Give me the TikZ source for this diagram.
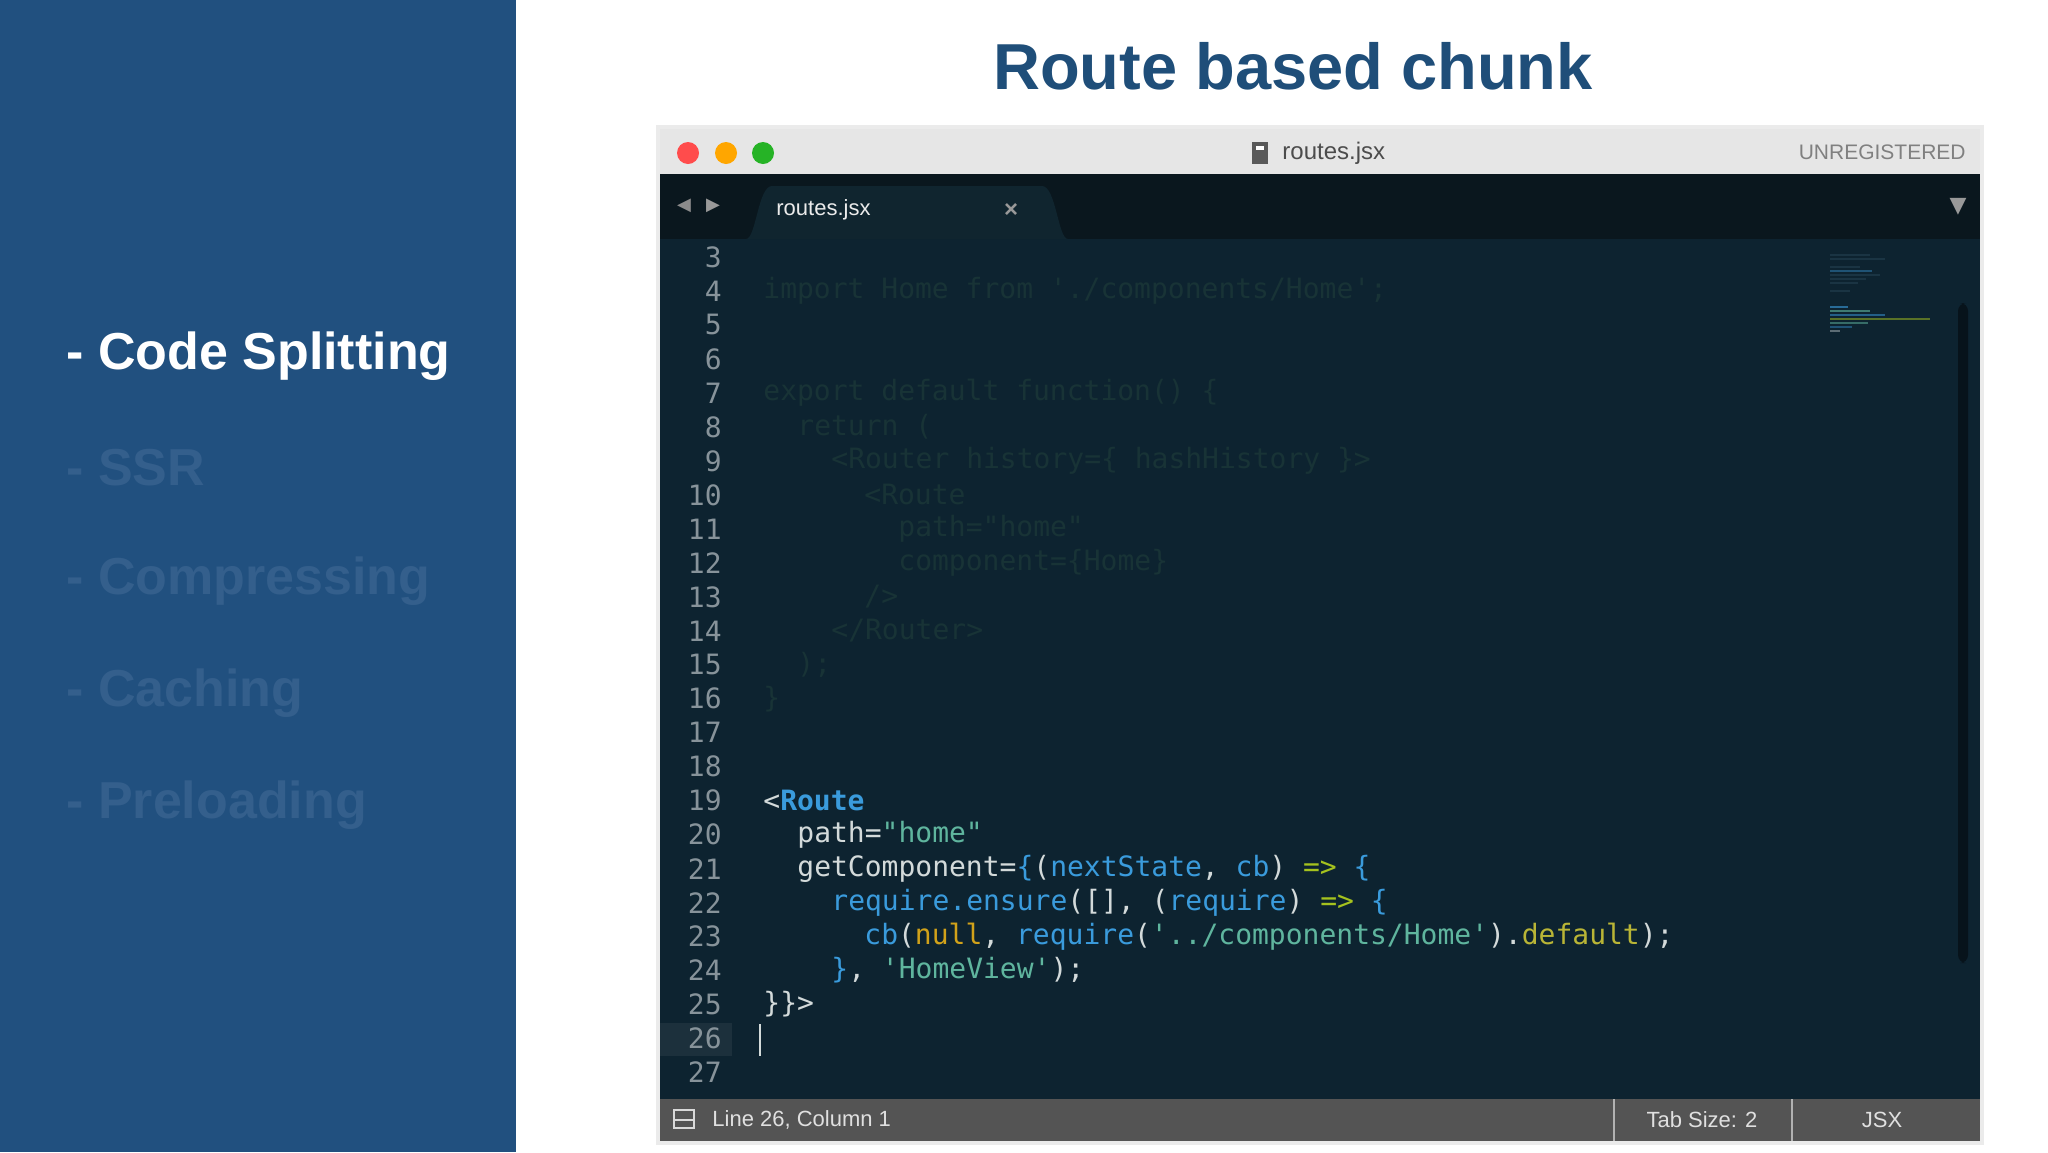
\documentclass[tikz,border=0pt]{standalone}
\usepackage{fontspec}
\setmainfont{Liberation Sans}
\newfontfamily\code{DejaVu Sans Mono}[Ligatures=TeXOff]
\newfontfamily\sym{DejaVu Sans}
\definecolor{panel}{HTML}{21507F}
\definecolor{menudim}{HTML}{345F8C}
\definecolor{titleblue}{HTML}{1F4E79}
\definecolor{tbar}{HTML}{E6E6E6}
\definecolor{tabbar}{HTML}{0A171E}
\definecolor{editor}{HTML}{0D2330}
\definecolor{tabc}{HTML}{10252F}
\definecolor{status}{HTML}{545454}
\definecolor{cwhite}{HTML}{D3DADA}
\definecolor{cblue}{HTML}{3A9BDC}
\definecolor{cstr}{HTML}{5FB59E}
\definecolor{carrow}{HTML}{A5C21E}
\definecolor{cnull}{HTML}{D1A21A}
\definecolor{cdef}{HTML}{B9B536}
\definecolor{cfade}{HTML}{183336}
\definecolor{cfade2}{HTML}{1A3443}
\definecolor{lnum}{HTML}{87939A}
\begin{document}
\begin{tikzpicture}[x=0.5pt,y=-0.5pt,
  menu/.style={anchor=west,font=\bfseries\fontsize{26}{30}\selectfont,inner sep=0},
  codeline/.style={anchor=west,inner sep=0,font=\code\fontsize{14}{16}\selectfont,text=cwhite},
  lno/.style={anchor=east,inner sep=0,font=\code\fontsize{14}{16}\selectfont,text=lnum},
  ui/.style={inner sep=0,font=\fontsize{11}{13}\selectfont}]
\useasboundingbox (0,0) rectangle (2048,1152);
\fill[white] (0,0) rectangle (2048,1152);
% left panel
\fill[panel] (0,0) rectangle (516,1152);
\node[menu,text=white] (m1) at (66,356) {- Code Splitting};
\node[menu,text=menudim] (m2) at (66,468) {- SSR};
\node[menu,text=menudim] (m3) at (66,581) {- Compressing};
\node[menu,text=menudim] (m4) at (66,693) {- Caching};
\node[menu,text=menudim] (m5) at (66,805) {- Preloading};
% title
\node[inner sep=0,font=\bfseries\fontsize{32.5}{38}\selectfont,text=titleblue] (title) at (1293,66) {Route based chunk};
% window
\fill[black!8] (656,125) rectangle (1984,1145);
\fill[tbar] (660,129) rectangle (1980,174);
\fill[tabbar] (660,174) rectangle (1980,239);
\fill[editor] (660,239) rectangle (1980,1099);
\fill[status] (660,1099) rectangle (1980,1141);
\fill[tabc] (746,239) .. controls (756,239) and (758,186) .. (772,186) -- (1042,186) .. controls (1056,186) and (1058,239) .. (1068,239) -- cycle;
% traffic lights
\fill[red!70!white] (688,153) circle (11);
\fill[orange!70!yellow] (726,153) circle (11);
\fill[green!65!black!85!white] (763,153) circle (11);
\fill[black!65] (1252,142) rectangle (1268,164);
\fill[white] (1256,146) rectangle (1264,150);
\node[ui,anchor=west,text=black!70,font=\fontsize{12}{14}\selectfont] (wt) at (1282,153) {routes.jsx};
\node[ui,anchor=east,text=black!50,font=\fontsize{10.5}{13}\selectfont] (unreg) at (1966,152) {UNREGISTERED};
% tab bar
\node[ui,text=black!45,font=\sym\fontsize{9}{10}\selectfont] (la) at (684,206) {◀};
\node[ui,text=black!40,font=\sym\fontsize{9}{10}\selectfont] (ra) at (713,206) {▶};
\node[ui,anchor=west,text=white!92!black] (tab) at (776,210) {routes.jsx};
\node[ui,text=black!40,font=\bfseries\fontsize{12}{14}\selectfont] (close) at (1011,210) {×};
\node[ui,text=black!40,font=\sym\fontsize{11}{12}\selectfont] (dd) at (1958,207) {▼};
% gutter highlight line 26
\fill[white!6!editor] (660,1023) rectangle (732,1056);
% line numbers
\foreach \n in {3,...,27}{
  \node[lno] (ln\n) at (722,{257+(\n-3)*33.98}) {\n};
}
% code (faded)
\def\cy#1{{257+(#1-3)*33.98}}
\node[codeline,text=cfade] (c4) at (763,\cy{4}) {import Home from './components/Home';};
\node[codeline,text=cfade] (c7) at (763,\cy{7}) {export default function() \{};
\node[codeline,text=cfade] (c8) at (797,\cy{8}) {return (};
\node[codeline,text=cfade] (c9) at (831,\cy{9}) {<Router history=\{ hashHistory \}>};
\node[codeline,text=cfade] (c10) at (864,\cy{10}) {<Route};
\node[codeline,text=cfade] (c11) at (898,\cy{11}) {path="home"};
\node[codeline,text=cfade] (c12) at (898,\cy{12}) {component=\{Home\}};
\node[codeline,text=cfade] (c13) at (864,\cy{13}) {/>};
\node[codeline,text=cfade] (c14) at (831,\cy{14}) {</Router>};
\node[codeline,text=cfade] (c15) at (797,\cy{15}) {);};
\node[codeline,text=cfade] (c16) at (763,\cy{16}) {\}};
% code (active)
\node[codeline] (c19) at (763,\cy{19}) {<\textcolor{cblue}{\bfseries Route}};
\node[codeline] (c20) at (797,\cy{20}) {path=\textcolor{cstr}{"home"}};
\node[codeline] (c21) at (797,\cy{21}) {getComponent=\textcolor{cblue}{\{}(\textcolor{cblue}{nextState}, \textcolor{cblue}{cb}) \textcolor{carrow}{=>} \textcolor{cblue}{\{}};
\node[codeline] (c22) at (831,\cy{22}) {\textcolor{cblue}{require.ensure}([], (\textcolor{cblue}{require}) \textcolor{carrow}{=>} \textcolor{cblue}{\{}};
\node[codeline] (c23) at (864,\cy{23}) {\textcolor{cblue}{cb}(\textcolor{cnull}{null}, \textcolor{cblue}{require}(\textcolor{cstr}{'../components/Home'}).\textcolor{cdef}{default});};
\node[codeline] (c24) at (831,\cy{24}) {\textcolor{cblue}{\}}, \textcolor{cstr}{'HomeView'});};
\node[codeline] (c25) at (763,\cy{25}) {\}\}>};
\draw[cwhite,line width=1.2] (760,1024) -- (760,1056);
% minimap
\foreach \yy/\w/\cc in {254/40/cfade2,258/55/cfade2,266/30/cfade2,270/42/cblue!40!editor,274/50/cfade2,278/36/cfade2,282/28/cfade2,290/20/cfade2,306/18/cblue!60!editor,310/40/cstr!60!editor,314/55/cblue!50!editor,318/100/carrow!50!editor,322/38/cstr!50!editor,326/22/cblue!40!editor,330/10/cwhite!40!editor}{
  \fill[\cc] (1830,\yy) rectangle ++(\w,2);
}
% scrollbar
\fill[black!45!editor,rounded corners=4] (1958,303) rectangle (1968,963);
% status bar
\draw[black!30,line width=1] (1614,1099) -- (1614,1141);
\draw[black!30,line width=1] (1792,1099) -- (1792,1141);
\draw[black!15,line width=1.2] (674,1110) rectangle (694,1128);
\draw[black!15,line width=1.2] (674,1120) -- (694,1120);
\node[ui,anchor=west,text=white!88!black] (st1) at (712,1120) {Line 26, Column 1};
\node[ui,text=white!88!black] (st2) at (1702,1120) {Tab Size: 2};
\node[ui,text=white!88!black] (st3) at (1882,1120) {JSX};
\end{tikzpicture}
\end{document}
